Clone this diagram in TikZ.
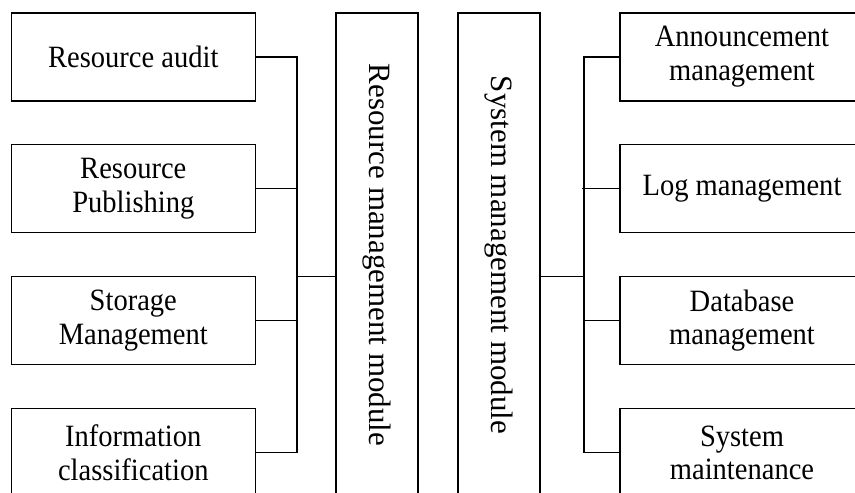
\documentclass[tikz,border=0pt]{standalone}
\usepackage{fontspec}
\usepackage{graphicx}
\setmainfont{Liberation Serif}[FakeStretch=0.92]
\newfontfamily\modfont{Liberation Serif}
\begin{document}
\begin{tikzpicture}[x=1pt,y=-1pt,
  leaf/.style={draw, line width=1.5pt, minimum width=244pt, minimum height=88pt, inner sep=0pt, align=center,
    font=\fontsize{31}{33.5}\selectfont},
  modbox/.style={draw, line width=1.5pt, minimum width=82pt, minimum height=484pt, inner sep=0pt,
    font=\modfont\fontsize{31}{33.5}\selectfont},
  wire/.style={draw, line width=1.5pt}]
\useasboundingbox (0,0) rectangle (855,493);
\clip (0,0) rectangle (855,493);
% left leaves
\node[leaf] (ra) at (133.3,56.8) {Resource audit};
\node[leaf] (rp) at (133.3,188.7) {Resource\\Publishing};
\node[leaf] (sg) at (133.3,320.5) {Storage\\Management};
\node[leaf] (ic) at (133.3,452.7) {Information\\classification};
% modules
\node[modbox] (rm) at (377,255) {\rotatebox{-90}{Resource management module}};
\node[modbox] (sm) at (498.8,255) {\rotatebox{-90}{System management module}};
% right leaves
\node[leaf] (am) at (742,56.8) {Announcement\\management};
\node[leaf] (lm) at (742,188.7) {Log management};
\node[leaf] (dm) at (742,320.5) {Database\\management};
\node[leaf] (mt) at (742,452.7) {System\\maintenance};
% helper coordinates
\coordinate (lv) at (297,0);
\coordinate (rv) at (584,0);
\coordinate (hub) at (0,276.3);
% left connectors
\draw[wire] (ra.east) -| (lv |- ic.east) -- (ic.east);
\draw[wire] (rp.east) -- (lv |- rp.east);
\draw[wire] (sg.east) -- (lv |- sg.east);
\draw[wire] (lv |- hub) -- (rm.west |- hub);
% right connectors
\draw[wire] (am.west) -| (rv |- mt.west) -- (mt.west);
\draw[wire] (lm.west) -- ([xshift=-2.5pt]rv |- lm.west);
\draw[wire] (dm.west) -- (rv |- dm.west);
\draw[wire] (sm.east |- hub) -- (rv |- hub);
\end{tikzpicture}
\end{document}
